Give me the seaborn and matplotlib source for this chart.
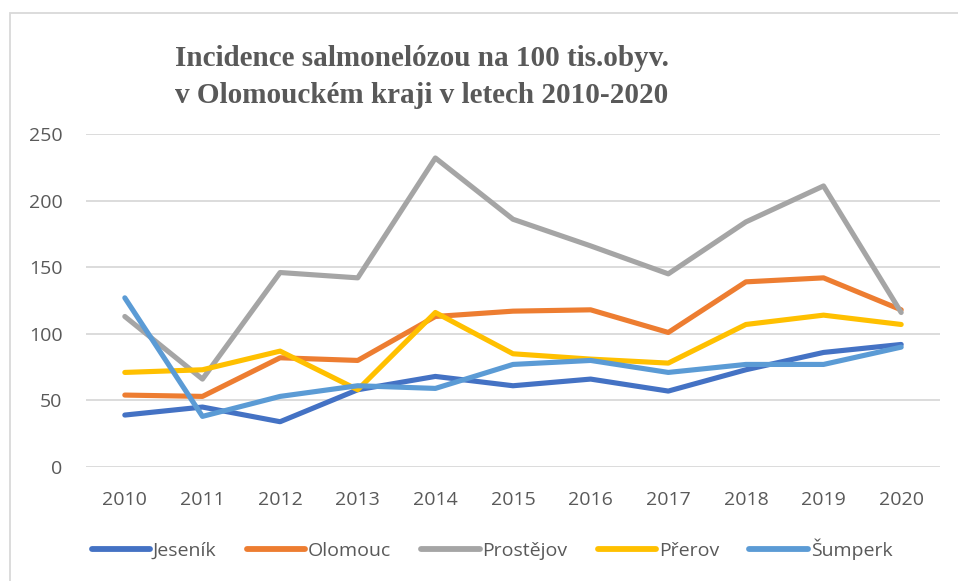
import matplotlib
matplotlib.use("Agg")
import matplotlib.pyplot as plt
import seaborn as sns
import pandas as pd
from matplotlib.patches import Rectangle

years = [2010, 2011, 2012, 2013, 2014, 2015, 2016, 2017, 2018, 2019, 2020]
jesenik = [39, 45, 34, 58, 68, 61, 66, 57, 73, 86, 92]
olomouc = [54, 53, 82, 80, 113, 117, 118, 101, 139, 142, 118]
prostejov = [113, 66, 146, 142, 232, 186, 166, 145, 184, 211, 116]
prerov = [71, 73, 87, 58, 116, 85, 81, 78, 107, 114, 107]
sumperk = [127, 38, 53, 61, 59, 77, 80, 71, 77, 77, 90]
series_names = ["Jeseník", "Olomouc", "Prostějov", "Přerov", "Šumperk"]
colors = ["#4472C4", "#ED7D31", "#A5A5A5", "#FFC000", "#5B9BD5"]
yticks = [0, 50, 100, 150, 200, 250]
title_text = "Incidence salmonelózou na 100 tis.obyv.\nv Olomouckém kraji v letech 2010-2020"

rows = []
for name, vals in zip(series_names, [jesenik, olomouc, prostejov, prerov, sumperk]):
    for i, (y, v) in enumerate(zip(years, vals)):
        rows.append({"idx": i, "year": str(y), "value": v, "series": name})
df = pd.DataFrame(rows)

sns.set_theme(style="white")
plt.rcParams['font.family'] = ['Open Sans', 'DejaVu Sans']

fig = plt.figure(figsize=(9.58, 5.81), dpi=100)
ax = fig.add_axes([86/958, 1-467/581, (940-86)/958, (467-134)/581])

sns.lineplot(data=df, x="idx", y="value", hue="series", palette=colors,
             hue_order=series_names, linewidth=3.7, ax=ax, legend=True,
             solid_capstyle="round", solid_joinstyle="round")

ax.set_xlim(-0.5, len(years) - 0.5)
ax.set_ylim(0, 250)
ax.set_xticks(range(len(years)))
ax.set_xticklabels([str(y) for y in years])
ax.set_yticks(yticks)
ax.yaxis.grid(True, color="#D9D9D9", linewidth=1.3)
ax.xaxis.grid(False)
ax.set_axisbelow(True)
for s in ax.spines.values():
    s.set_visible(False)
ax.tick_params(axis="both", length=0, labelsize=14, labelcolor="#595959")
ax.tick_params(axis="y", pad=17)
ax.tick_params(axis="x", pad=17)
ax.set_xlabel("")
ax.set_ylabel("")

handles, labels = ax.get_legend_handles_labels()
ax.legend_.remove()
for h in handles:
    h.set_linewidth(4.2)
    h.set_solid_capstyle("round")
fig.legend(handles, labels, loc="center", bbox_to_anchor=(492/958, 1-549/581),
           ncol=5, frameon=False, fontsize=14, labelcolor="#595959",
           handlelength=3.0, handletextpad=0.15, columnspacing=1.55)

fig.text(422/958, 1-77/581, title_text, ha="center", va="center",
         fontsize=21, fontweight="bold", color="#595959",
         family=["Liberation Serif", "DejaVu Serif"], linespacing=1.45)

fig.patches.append(Rectangle((10/958, -0.1), 1.2, 1-13/581+0.1,
                             transform=fig.transFigure, fill=False,
                             edgecolor="#D9D9D9", linewidth=1.3))

fig.savefig("out.png", dpi=100)
